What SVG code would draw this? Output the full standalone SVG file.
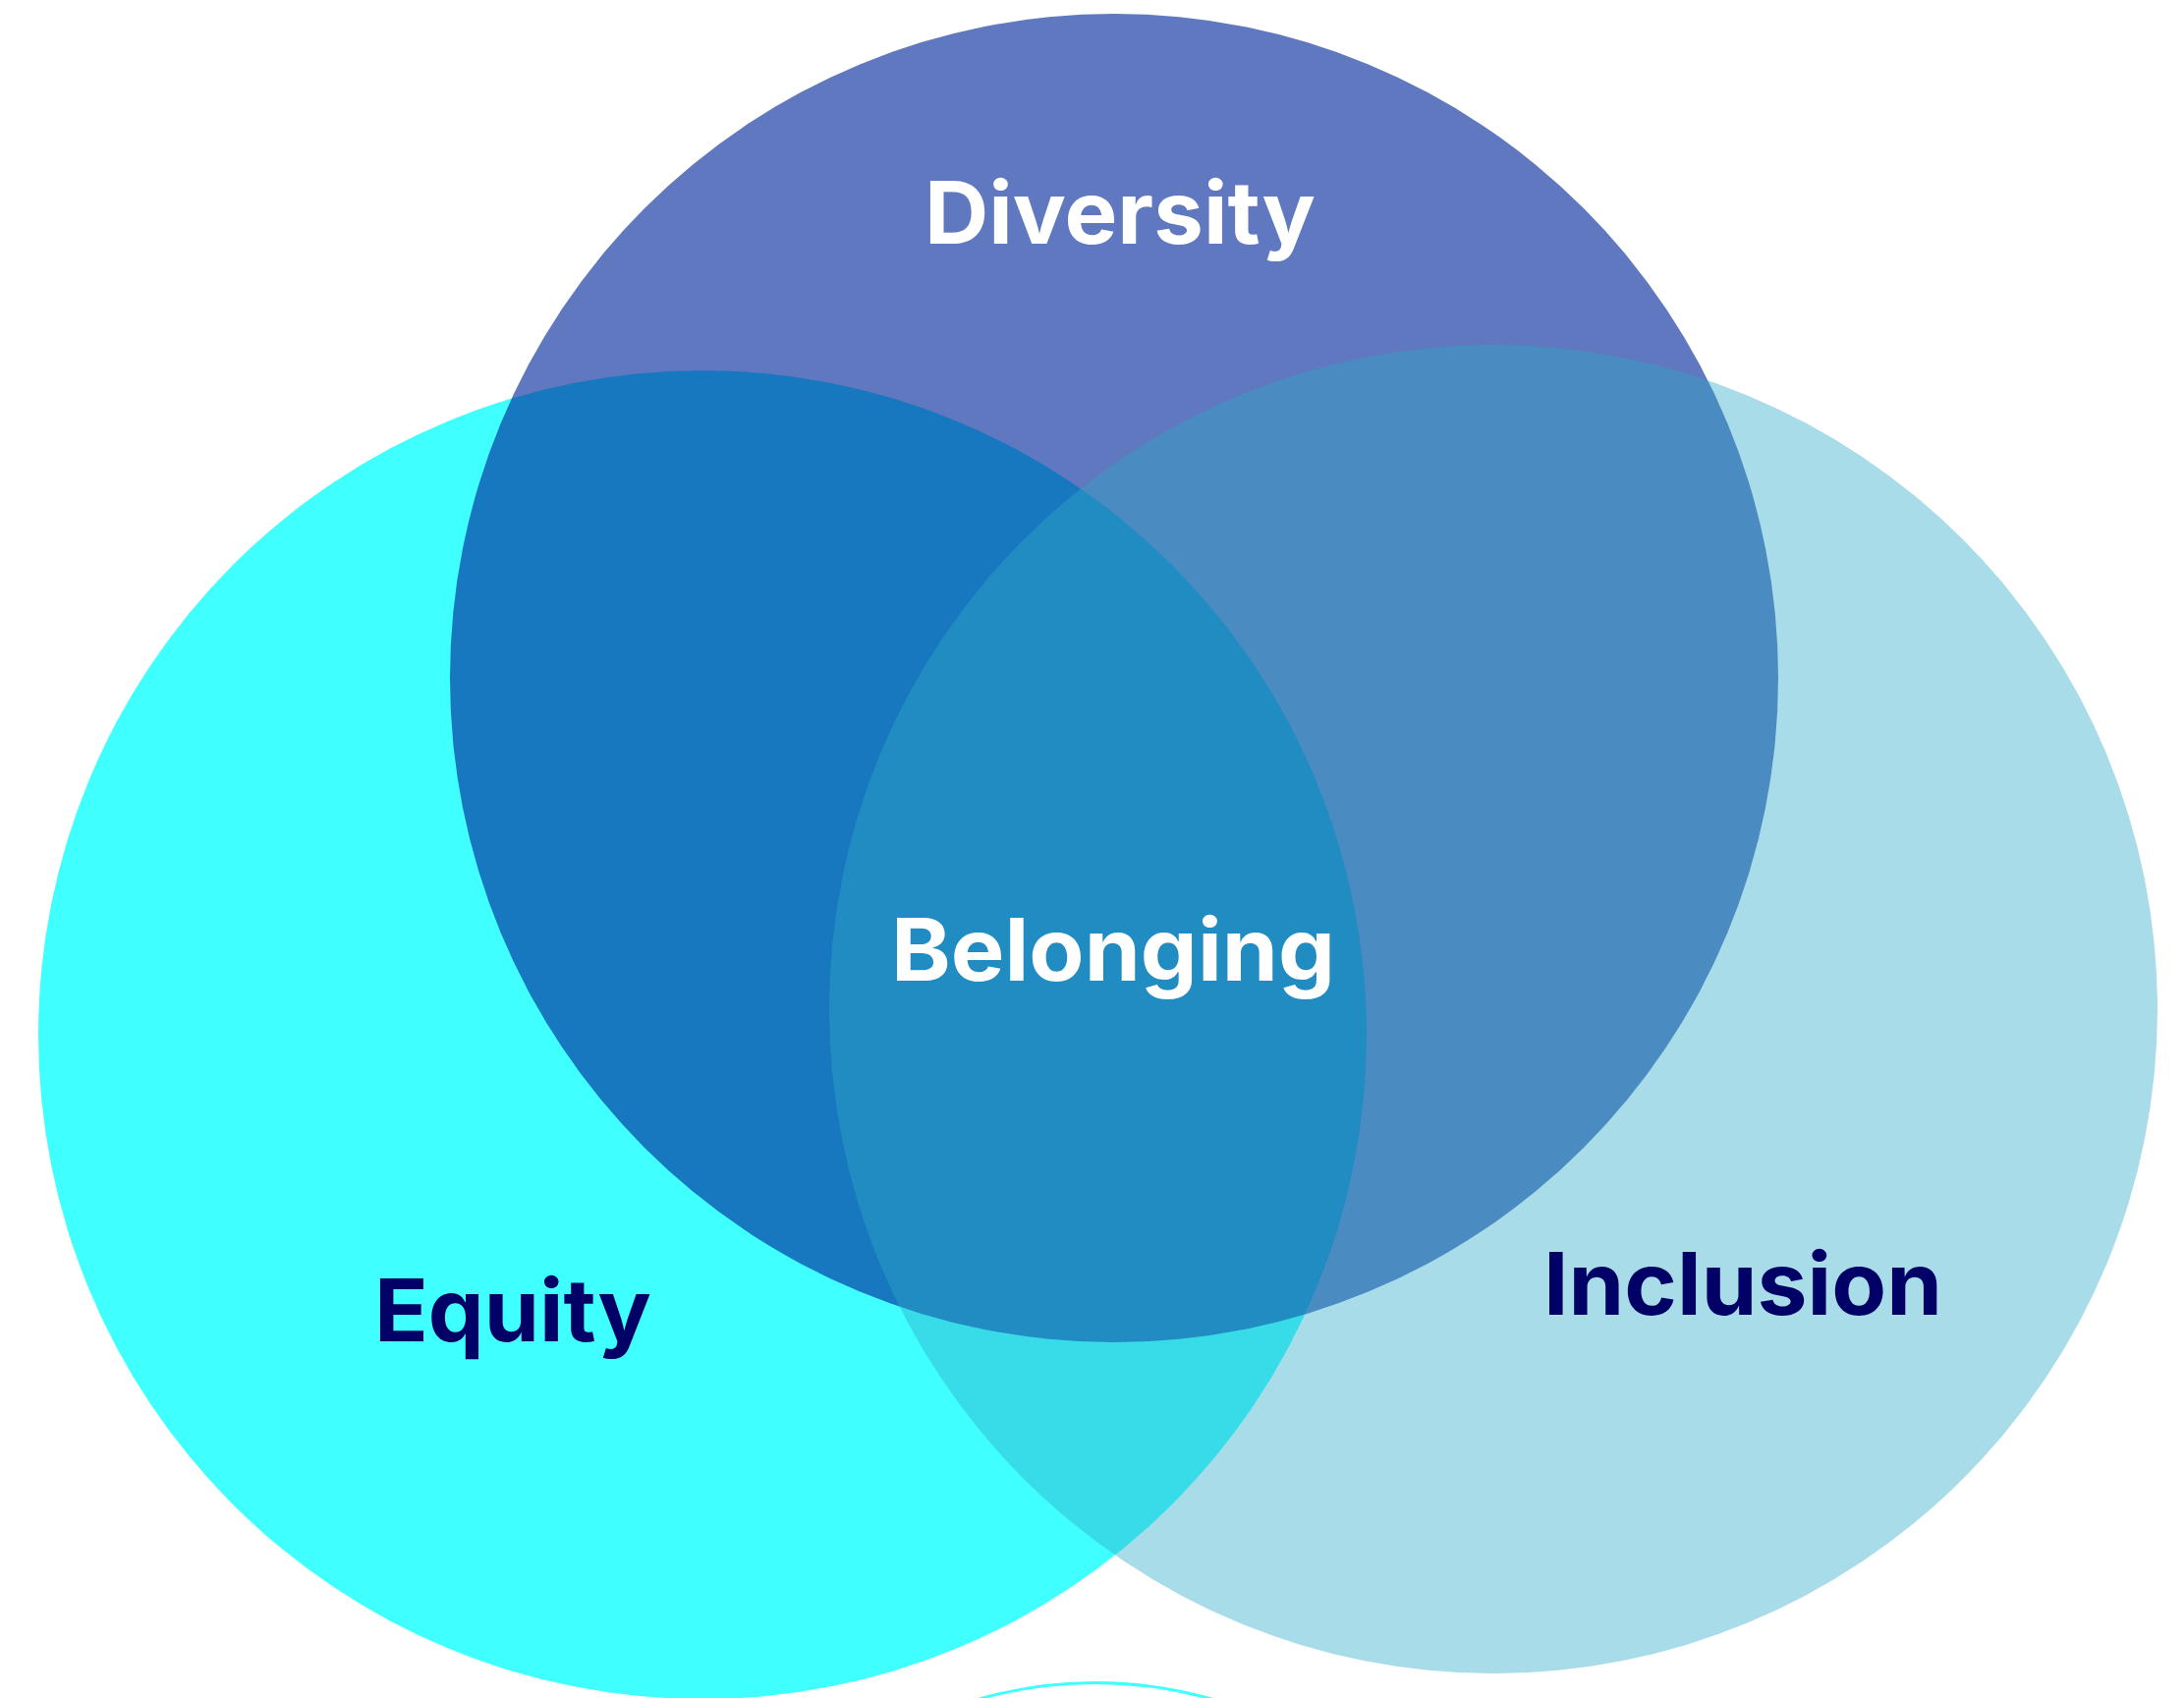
<svg xmlns="http://www.w3.org/2000/svg" width="2223" height="1728" viewBox="0 0 2223 1728">
<style>
.lbl{font-family:Inter,Lato,"Liberation Sans",sans-serif;font-weight:700;font-size:88px}
.w{fill:#ffffff}
.n{fill:#000066}
</style>
<rect x="0" y="0" width="2223" height="1728" fill="#ffffff"/>
<g id="equity"><circle cx="715" cy="1053" r="676" fill="#40FFFF"/></g>
<g id="diversity"><circle cx="1134" cy="690" r="676" fill="#002699" fill-opacity="0.623"/></g>
<g id="inclusion"><circle cx="1520" cy="1027" r="676" fill="#2BAAC7" fill-opacity="0.41"/></g>
<g id="bottom-arc"><path d="M 997 1729 A 430 430 0 0 1 1233 1729" fill="none" stroke="#40FFFF" stroke-width="3"/></g>
<g id="labels">
<text id="t-diversity" class="lbl w" x="941" y="248" textLength="398" lengthAdjust="spacingAndGlyphs">Diversity</text>
<text id="t-belonging" class="lbl w" x="907" y="998" textLength="452" lengthAdjust="spacingAndGlyphs">Belonging</text>
<text id="t-equity" class="lbl n" x="381" y="1365" textLength="282" lengthAdjust="spacingAndGlyphs">Equity</text>
<text id="t-inclusion" class="lbl n" x="1571" y="1338" textLength="406" lengthAdjust="spacingAndGlyphs">Inclusion</text>
</g>
<g id="connectors"></g>
</svg>
